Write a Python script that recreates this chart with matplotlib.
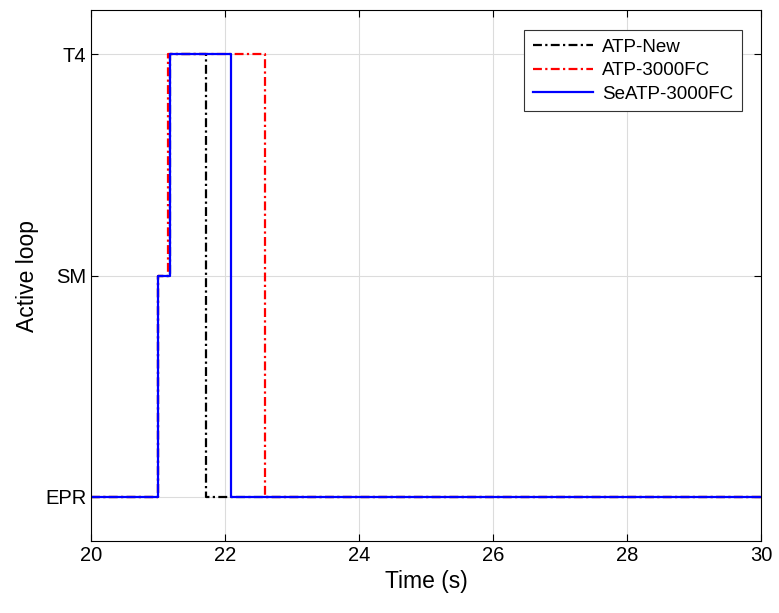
import matplotlib
matplotlib.use('Agg')
import matplotlib.pyplot as plt

plt.rcParams['font.family'] = ['Liberation Sans', 'DejaVu Sans']

# Data: step signals (0 = EPR, 1 = SM, 2 = T4)
t_new = [20.0, 21.0, 21.17, 21.72, 30.0]
y_new = [0, 1, 2, 0, 0]
t_fc = [20.0, 21.0, 21.14, 22.60, 30.0]
y_fc = [0, 1, 2, 0, 0]
t_se = [20.0, 21.0, 21.17, 22.09, 30.0]
y_se = [0, 1, 2, 0, 0]
loop_labels = ['EPR', 'SM', 'T4']

fig = plt.figure(figsize=(7.79, 6.13), dpi=100)
ax = fig.add_axes([0.117, 0.1175, 0.86, 0.866])

dashdot = (0, (4, 1.5, 1, 1.5))
ax.step(t_new, y_new, where='post', color='black', linestyle=dashdot, linewidth=1.6, label='ATP-New')
ax.step(t_fc, y_fc, where='post', color='red', linestyle=dashdot, linewidth=1.6, label='ATP-3000FC')
ax.step(t_se, y_se, where='post', color='blue', linestyle='-', linewidth=1.6, label='SeATP-3000FC')

ax.set_xlim(20, 30)
ax.set_ylim(-0.2, 2.2)
ax.set_xticks([20, 22, 24, 26, 28, 30])
ax.set_yticks([0, 1, 2])
ax.set_yticklabels(loop_labels)
ax.grid(True, color='#dcdcdc', linewidth=0.8)
ax.set_axisbelow(True)
ax.tick_params(direction='in', top=True, right=True, labelsize=14.5, length=5)
for s in ax.spines.values():
    s.set_linewidth(0.8)
ax.set_xlabel('Time (s)', fontsize=16.5)
ax.set_ylabel('Active loop', fontsize=16.5)

leg = ax.legend(loc='upper right', bbox_to_anchor=(0.985, 0.98), fontsize=13.5,
                fancybox=False, framealpha=1, edgecolor='#333333',
                handlelength=3.2, borderpad=0.45, labelspacing=0.35, handletextpad=0.5)
leg.get_frame().set_linewidth(0.8)

fig.savefig('out.png', dpi=100)
